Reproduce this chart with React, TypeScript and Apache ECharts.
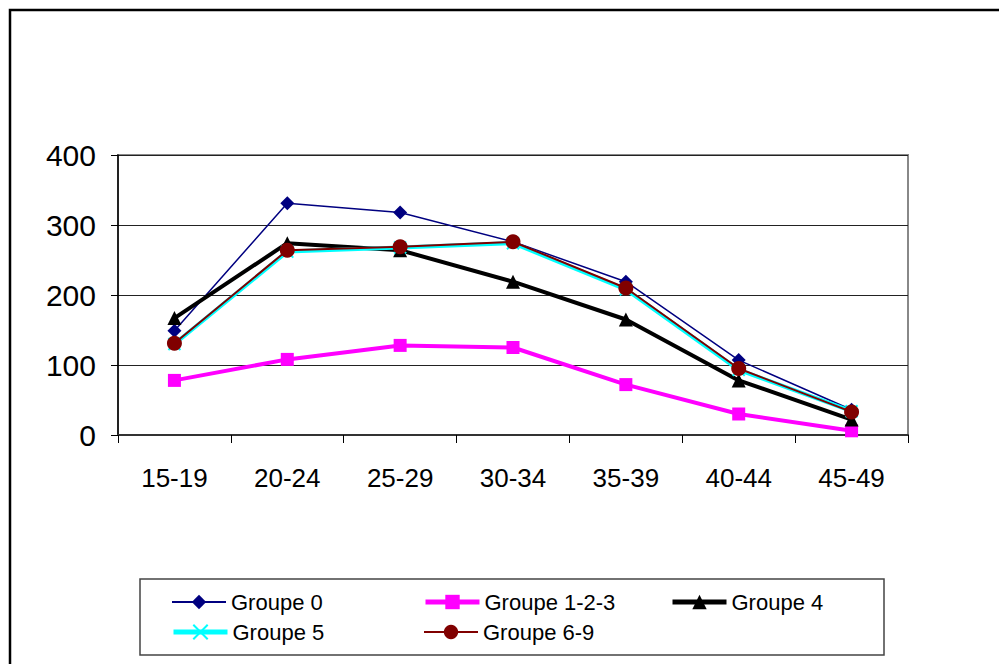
import React, { useEffect, useRef } from "react";
import * as echarts from "echarts";

const categories = ["15-19", "20-24", "25-29", "30-34", "35-39", "40-44", "45-49"];
const groupe0 = [149, 331, 318, 276, 219, 107, 36];
const groupe123 = [78, 108, 128, 125, 72, 30, 6];
const groupe4 = [167, 274, 264, 219, 165, 78, 22];
const groupe5 = [130, 262, 268, 274, 208, 93, 34];
const groupe69 = [131, 264, 269, 276, 210, 95, 33];
const yTicks = [0, 100, 200, 300, 400];

const FONT = "'Liberation Sans', Arial, sans-serif";

export default function App() {
  const ref = useRef<HTMLDivElement>(null);
  useEffect(() => {
    document.body.style.margin = "0";
    const chart = echarts.init(ref.current!, null, { renderer: "svg" });
    const legendText = { fontSize: 22, fontFamily: FONT, color: "#000" };
    const mkLegend = (name: string, lineWidth: number, left: number, centerY: number) => ({
      data: [{ name, lineStyle: { width: lineWidth } }],
      left,
      top: centerY - 9,
      padding: 0,
      itemWidth: 54,
      itemHeight: 18,
      itemGap: 6,
      textStyle: legendText,
      selectedMode: false,
    });
    chart.setOption({
      animation: false,
      backgroundColor: "#fff",
      grid: {
        left: 118,
        right: 91,
        top: 155,
        bottom: 229,
        show: true,
        borderColor: "#888",
        borderWidth: 2,
      },
      graphic: [
        {
          type: "rect",
          shape: { x: 10, y: 10, width: 1000, height: 700 },
          style: { fill: "none", stroke: "#000", lineWidth: 2.5 },
          silent: true,
        },
        {
          type: "rect",
          shape: { x: 140, y: 579, width: 744, height: 76 },
          style: { fill: "none", stroke: "#444", lineWidth: 1.5 },
          silent: true,
        },
      ],
      legend: [
        mkLegend("Groupe 0", 2, 171, 600),
        mkLegend("Groupe 1-2-3", 5, 423, 600),
        mkLegend("Groupe 4", 5, 670, 600),
        mkLegend("Groupe 5", 5, 171, 630),
        mkLegend("Groupe 6-9", 2, 423, 630),
      ],
      xAxis: {
        type: "category",
        data: categories,
        boundaryGap: true,
        axisLine: { show: true, lineStyle: { color: "#333", width: 2 } },
        axisTick: { show: true, length: 8, lineStyle: { color: "#000", width: 1 } },
        axisLabel: { fontSize: 26, fontFamily: FONT, color: "#000", margin: 30 },
        splitLine: { show: false },
      },
      yAxis: {
        type: "value",
        min: yTicks[0],
        max: yTicks[yTicks.length - 1],
        interval: 100,
        axisLine: { show: true, lineStyle: { color: "#000", width: 1.5 } },
        axisTick: { show: true, length: 7, lineStyle: { color: "#000", width: 1 } },
        axisLabel: { fontSize: 30, fontFamily: FONT, color: "#000", margin: 22 },
        splitLine: { show: true, lineStyle: { color: "#222", width: 1 } },
      },
      series: [
        {
          name: "Groupe 0",
          type: "line",
          data: groupe0,
          symbol: "diamond",
          symbolSize: 14,
          lineStyle: { color: "#000080", width: 1.5 },
          itemStyle: { color: "#000080" },
          z: 2,
        },
        {
          name: "Groupe 1-2-3",
          type: "line",
          data: groupe123,
          symbol: "rect",
          symbolSize: 13,
          lineStyle: { color: "#ff00ff", width: 4 },
          itemStyle: { color: "#ff00ff" },
          z: 3,
        },
        {
          name: "Groupe 4",
          type: "line",
          data: groupe4,
          symbol: "triangle",
          symbolSize: 14,
          lineStyle: { color: "#000", width: 4 },
          itemStyle: { color: "#000" },
          z: 4,
        },
        {
          name: "Groupe 5",
          type: "line",
          data: groupe5,
          symbol: "path://M0,0L10,10M10,0L0,10",
          symbolSize: 12,
          lineStyle: { color: "#00ffff", width: 4 },
          itemStyle: { color: "#00ffff", borderColor: "#00ffff", borderWidth: 2 },
          z: 5,
        },
        {
          name: "Groupe 6-9",
          type: "line",
          data: groupe69,
          symbol: "circle",
          symbolSize: 15,
          lineStyle: { color: "#800000", width: 2 },
          itemStyle: { color: "#800000" },
          z: 6,
        },
      ],
    });
    return () => chart.dispose();
  }, []);
  return (
    <div
      ref={ref}
      style={{ position: "fixed", left: 0, top: 0, width: 999, height: 664 }}
    />
  );
}
